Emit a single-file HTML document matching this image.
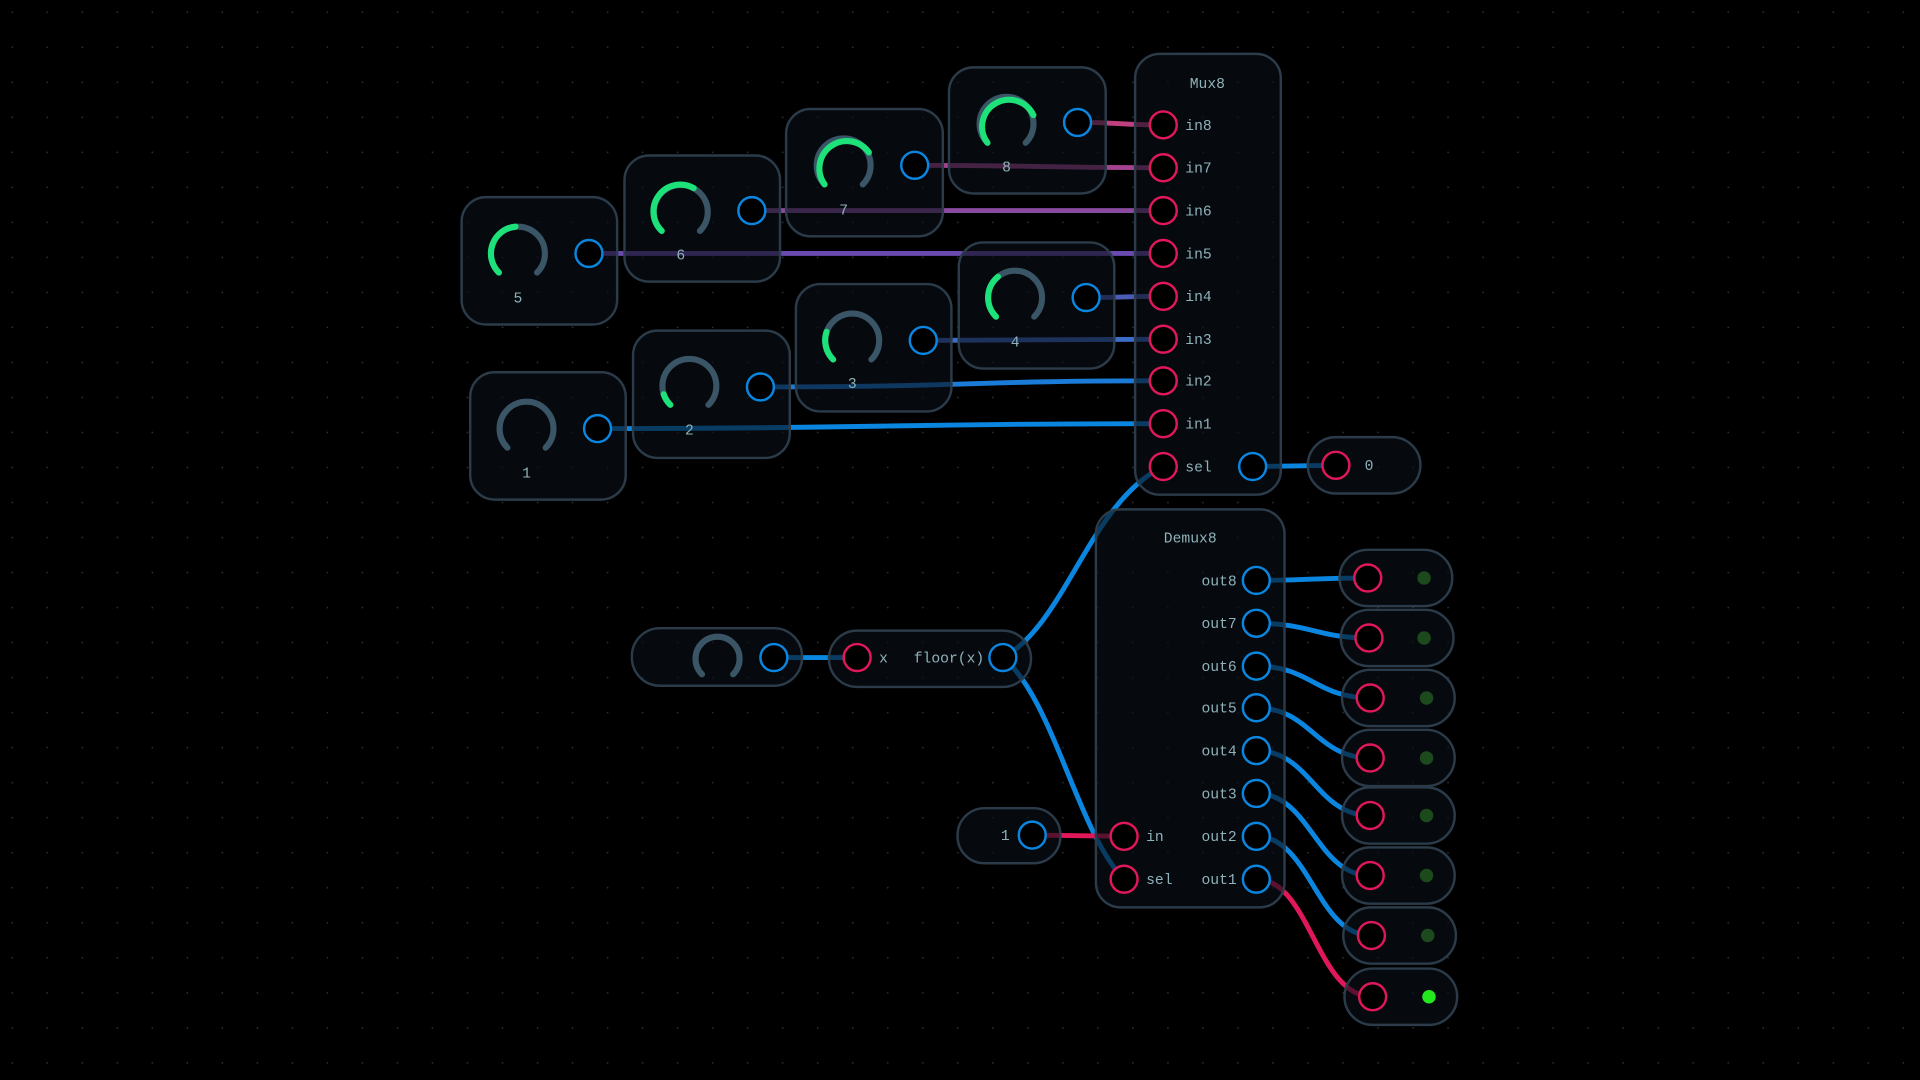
<!DOCTYPE html>
<html><head><meta charset="utf-8"><style>
html,body{margin:0;padding:0;background:#000;width:1920px;height:1080px;overflow:hidden}
svg{display:block}
text{font-family:"Liberation Mono",monospace;font-size:12px;fill:#8fb2ba}
.n{fill:#0a0f16;fill-opacity:.62;stroke:#2b3b49;stroke-width:2}
.pr{fill:#000;stroke:#e0185a;stroke-width:2}
.pb{fill:#000;stroke:#0a86e0;stroke-width:2}
.w{fill:none;stroke-width:4;stroke-linecap:round}
.tr{fill:none;stroke:#3a5566;stroke-width:5;stroke-linecap:round}
.gv{fill:none;stroke:#1de27a;stroke-width:5;stroke-linecap:round}
</style></head><body>
<svg width="1920" height="1080" viewBox="0 0 1568 882" xmlns="http://www.w3.org/2000/svg">
<defs><pattern id="g" width="28.6" height="28.6" patternUnits="userSpaceOnUse" x="-4" y="-4"><circle cx="14" cy="14" r="0.7" fill="#2c333b"/></pattern></defs>
<rect width="1568" height="882" fill="#000"/>
<rect width="1568" height="882" fill="url(#g)"/>

<path class="w" stroke="#c0407f" d="M880 100 C915 100 915 102 950 102"/>
<path class="w" stroke="#a4428f" d="M747 135 C850 135 850 137 950 137"/>
<path class="w" stroke="#8a4aa0" d="M614 172 C780 172 780 172 950 172"/>
<path class="w" stroke="#6a4ab0" d="M481 207 C700 207 700 207 950 207"/>
<path class="w" stroke="#4a5cb8" d="M887 243 C918 243 918 242 950 242"/>
<path class="w" stroke="#3a6cc8" d="M754 278 C850 278 850 277 950 277"/>
<path class="w" stroke="#1a7cd8" d="M621 316 C790 316 790 311 950 311"/>
<path class="w" stroke="#0a86e0" d="M488 350 C720 350 720 346 950 346"/>
<path class="w" stroke="#0a86e0" d="M819 537 C870 510 890 410 950 381"/>
<path class="w" stroke="#0a86e0" d="M819 537 C860 570 880 680 918 718"/>
<path class="w" stroke="#0a86e0" d="M632 537 L700 537"/>
<path class="w" stroke="#e0185a" d="M843 682 L918 683"/>
<path class="w" stroke="#0a86e0" d="M1023 381 L1091 380"/>
<path class="w" stroke="#0a86e0" d="M1026 474 C1070 474 1070 472 1117 472"/>
<path class="w" stroke="#0a86e0" d="M1026 509 C1070 509 1075 521 1118 521"/>
<path class="w" stroke="#0a86e0" d="M1026 544 C1070 544 1075 570 1119 570"/>
<path class="w" stroke="#0a86e0" d="M1026 578 C1070 578 1075 619 1119 619"/>
<path class="w" stroke="#0a86e0" d="M1026 613 C1070 613 1075 666 1119 666"/>
<path class="w" stroke="#0a86e0" d="M1026 648 C1070 648 1075 715 1119 715"/>
<path class="w" stroke="#0a86e0" d="M1026 683 C1070 683 1075 764 1120 764"/>
<path class="w" stroke="#e0185a" d="M1026 718 C1070 718 1075 814 1121 814"/>

<g>
<rect class="n" x="377" y="161" width="127" height="104" rx="20"/>
<rect class="n" x="510" y="127" width="127" height="103" rx="20"/>
<rect class="n" x="642" y="89" width="128" height="104" rx="20"/>
<rect class="n" x="775" y="55" width="128" height="103" rx="20"/>
<rect class="n" x="783" y="198" width="127" height="103" rx="20"/>
<rect class="n" x="650" y="232" width="127" height="104" rx="20"/>
<rect class="n" x="517" y="270" width="128" height="104" rx="20"/>
<rect class="n" x="384" y="304" width="127" height="104" rx="20"/>
</g>

<g>
<path class="tr" d="M407.4 222.6 A22 22 0 1 1 438.6 222.6"/>
<path class="gv" d="M407.4 222.6 A22 22 0 0 1 421 185.1"/>
<path class="tr" d="M540.4 188.6 A22 22 0 1 1 571.6 188.6"/>
<path class="gv" d="M540.4 188.6 A22 22 0 0 1 566.5 153.6"/>
<path class="tr" d="M673.4 150.6 A22 22 0 1 1 704.6 150.6"/>
<path class="gv" d="M673.4 150.6 A22 22 0 0 1 709.6 124.5"/>
<path class="tr" d="M806.4 116.6 A22 22 0 1 1 837.6 116.6"/>
<path class="gv" d="M806.4 116.6 A22 22 0 1 1 843.9 94"/>
<path class="tr" d="M813.4 258.6 A22 22 0 1 1 844.6 258.6"/>
<path class="gv" d="M813.4 258.6 A22 22 0 0 1 815 226"/>
<path class="tr" d="M680.4 293.6 A22 22 0 1 1 711.6 293.6"/>
<path class="gv" d="M680.4 293.6 A22 22 0 0 1 675 271"/>
<path class="tr" d="M547.4 330.6 A22 22 0 1 1 578.6 330.6"/>
<path class="gv" d="M547.4 330.6 A22 22 0 0 1 542 322"/>
<path class="tr" d="M414.4 365.6 A22 22 0 1 1 445.6 365.6"/>
</g>
<text x="423" y="247" text-anchor="middle">5</text>
<text x="556" y="212" text-anchor="middle">6</text>
<text x="689" y="175" text-anchor="middle">7</text>
<text x="822" y="140" text-anchor="middle">8</text>
<text x="829" y="283" text-anchor="middle">4</text>
<text x="696" y="317" text-anchor="middle">3</text>
<text x="563" y="355" text-anchor="middle">2</text>
<text x="430" y="390" text-anchor="middle">1</text>
<circle class="pb" cx="481" cy="207" r="11"/>
<circle class="pb" cx="614" cy="172" r="11"/>
<circle class="pb" cx="747" cy="135" r="11"/>
<circle class="pb" cx="880" cy="100" r="11"/>
<circle class="pb" cx="887" cy="243" r="11"/>
<circle class="pb" cx="754" cy="278" r="11"/>
<circle class="pb" cx="621" cy="316" r="11"/>
<circle class="pb" cx="488" cy="350" r="11"/>

<rect class="n" x="927" y="44" width="119" height="360" rx="20"/>
<text x="986" y="72" text-anchor="middle">Mux8</text>
<g>
<circle class="pr" cx="950" cy="102" r="11"/><text x="968" y="106">in8</text>
<circle class="pr" cx="950" cy="137" r="11"/><text x="968" y="141">in7</text>
<circle class="pr" cx="950" cy="172" r="11"/><text x="968" y="176">in6</text>
<circle class="pr" cx="950" cy="207" r="11"/><text x="968" y="211">in5</text>
<circle class="pr" cx="950" cy="242" r="11"/><text x="968" y="246">in4</text>
<circle class="pr" cx="950" cy="277" r="11"/><text x="968" y="281">in3</text>
<circle class="pr" cx="950" cy="311" r="11"/><text x="968" y="315">in2</text>
<circle class="pr" cx="950" cy="346" r="11"/><text x="968" y="350">in1</text>
<circle class="pr" cx="950" cy="381" r="11"/><text x="968" y="385">sel</text>
<circle class="pb" cx="1023" cy="381" r="11"/>
</g>
<rect class="n" x="1068" y="357" width="92" height="46" rx="23"/>
<circle class="pr" cx="1091" cy="380" r="11"/><text x="1118" y="384" text-anchor="middle">0</text>

<rect class="n" x="895" y="416" width="154" height="325" rx="20"/>
<text x="972" y="443" text-anchor="middle">Demux8</text>
<g text-anchor="end">
<text x="1010" y="478">out8</text><text x="1010" y="513">out7</text>
<text x="1010" y="548">out6</text><text x="1010" y="582">out5</text>
<text x="1010" y="617">out4</text><text x="1010" y="652">out3</text>
<text x="1010" y="687">out2</text><text x="1010" y="722">out1</text>
</g>
<circle class="pb" cx="1026" cy="474" r="11"/><circle class="pb" cx="1026" cy="509" r="11"/>
<circle class="pb" cx="1026" cy="544" r="11"/><circle class="pb" cx="1026" cy="578" r="11"/>
<circle class="pb" cx="1026" cy="613" r="11"/><circle class="pb" cx="1026" cy="648" r="11"/>
<circle class="pb" cx="1026" cy="683" r="11"/><circle class="pb" cx="1026" cy="718" r="11"/>
<circle class="pr" cx="918" cy="683" r="11"/><text x="936" y="687">in</text>
<circle class="pr" cx="918" cy="718" r="11"/><text x="936" y="722">sel</text>

<rect class="n" x="516" y="513" width="139" height="47" rx="23"/>
<path class="tr" d="M573.3 550.7 A18 18 0 1 1 598.7 550.7"/>
<circle class="pb" cx="632" cy="537" r="11"/>
<rect class="n" x="677" y="515" width="165" height="46" rx="23"/>
<circle class="pr" cx="700" cy="537" r="11"/><text x="718" y="541">x</text>
<text x="775" y="541" text-anchor="middle">floor(x)</text>
<circle class="pb" cx="819" cy="537" r="11"/>
<rect class="n" x="782" y="660" width="84" height="45" rx="22"/>
<text x="821" y="686" text-anchor="middle">1</text>
<circle class="pb" cx="843" cy="682" r="11"/>

<g>
<rect class="n" x="1094" y="449" width="92" height="46" rx="23"/><circle class="pr" cx="1117" cy="472" r="11"/><circle cx="1163" cy="472" r="5.5" fill="#1d4a1d"/>
<rect class="n" x="1095" y="498" width="92" height="46" rx="23"/><circle class="pr" cx="1118" cy="521" r="11"/><circle cx="1163" cy="521" r="5.5" fill="#1d4a1d"/>
<rect class="n" x="1096" y="547" width="92" height="46" rx="23"/><circle class="pr" cx="1119" cy="570" r="11"/><circle cx="1165" cy="570" r="5.5" fill="#1d4a1d"/>
<rect class="n" x="1096" y="596" width="92" height="46" rx="23"/><circle class="pr" cx="1119" cy="619" r="11"/><circle cx="1165" cy="619" r="5.5" fill="#1d4a1d"/>
<rect class="n" x="1096" y="643" width="92" height="46" rx="23"/><circle class="pr" cx="1119" cy="666" r="11"/><circle cx="1165" cy="666" r="5.5" fill="#1d4a1d"/>
<rect class="n" x="1096" y="692" width="92" height="46" rx="23"/><circle class="pr" cx="1119" cy="715" r="11"/><circle cx="1165" cy="715" r="5.5" fill="#1d4a1d"/>
<rect class="n" x="1097" y="741" width="92" height="46" rx="23"/><circle class="pr" cx="1120" cy="764" r="11"/><circle cx="1166" cy="764" r="5.5" fill="#1d4a1d"/>
<rect class="n" x="1098" y="791" width="92" height="46" rx="23"/><circle class="pr" cx="1121" cy="814" r="11"/><circle cx="1167" cy="814" r="5.5" fill="#22e81e"/>
</g>
</svg>
</body></html>
